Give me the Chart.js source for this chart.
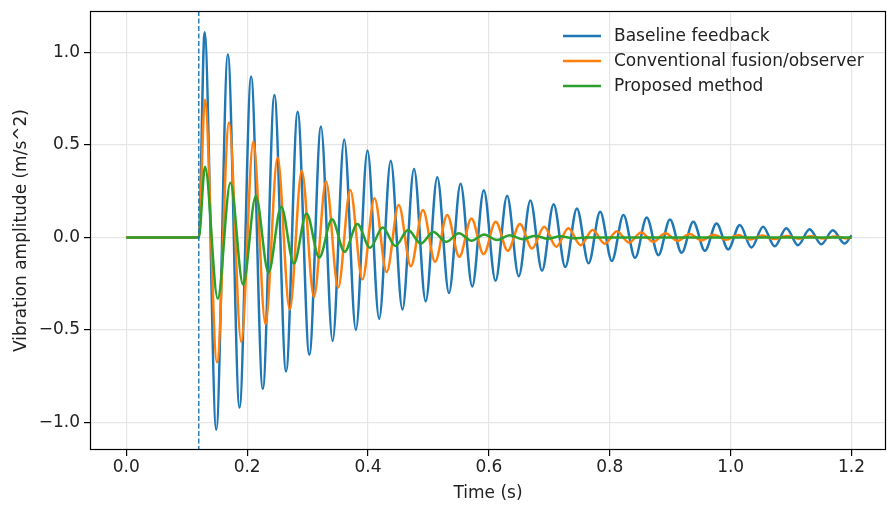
<!DOCTYPE html>
<html>
<head>
<meta charset="utf-8">
<script src="https://cdn.jsdelivr.net/npm/chart.js@4.4.0/dist/chart.umd.min.js"></script>
<style>
  html, body { margin: 0; padding: 0; background: #fff; }
  #wrap { width: 893px; height: 516px; }
</style>
</head>
<body>
<div id="wrap"><canvas id="chart" width="893" height="516"></canvas></div>
<script>
"use strict";

// ---- data ----
const onsetTime = 0.12;
const endTime = 1.2;
const xTicks = [0, 0.2, 0.4, 0.6, 0.8, 1.0, 1.2];
const yTicks = [-1, -0.5, 0, 0.5, 1];
const seriesNames = ['Baseline feedback', 'Conventional fusion/observer', 'Proposed method'];
const seriesColors = ['#1f77b4', '#ff7f0e', '#2ca02c'];

// peaks / troughs of each response (s, m/s^2)
const baselineTimes = [
  0.1296, 0.1489, 0.1681, 0.1874, 0.2066, 0.2259, 0.2451, 0.2644, 0.2836, 0.3029,
  0.3221, 0.3414, 0.3606, 0.3799, 0.3991, 0.4184, 0.4376, 0.4569, 0.4761, 0.4954,
  0.5146, 0.5339, 0.5531, 0.5724, 0.5916, 0.6109, 0.6301, 0.6494, 0.6686, 0.6879,
  0.7071, 0.7264, 0.7456, 0.7649, 0.7841, 0.8034, 0.8226, 0.8419, 0.8611, 0.8804,
  0.8996, 0.9189, 0.9381, 0.9574, 0.9766, 0.9959, 1.0151, 1.0344, 1.0536, 1.0729,
  1.0921, 1.1114, 1.1306, 1.1499, 1.1691, 1.1884
];
const baselineValues = [
  1.11, -1.04, 0.99, -0.92, 0.87, -0.82, 0.77, -0.725, 0.68, -0.635,
  0.60, -0.56, 0.53, -0.50, 0.47, -0.44, 0.415, -0.39, 0.37, -0.345,
  0.325, -0.30, 0.29, -0.265, 0.255, -0.235, 0.225, -0.21, 0.20, -0.18,
  0.18, -0.16, 0.157, -0.14, 0.139, -0.127, 0.121, -0.11, 0.108, -0.096,
  0.097, -0.083, 0.085, -0.072, 0.076, -0.065, 0.067, -0.055, 0.058, -0.048,
  0.05, -0.042, 0.044, -0.037, 0.039, -0.033
];
const baselineEnd = 0.012;

const fusionTimes = [
  0.1300, 0.1501, 0.1701, 0.1902, 0.2102, 0.2303, 0.2503, 0.2704, 0.2904, 0.3105,
  0.3305, 0.3506, 0.3706, 0.3907, 0.4107, 0.4308, 0.4508, 0.4709, 0.4909, 0.5110,
  0.5310, 0.5511, 0.5711, 0.5912, 0.6112, 0.6313, 0.6513, 0.6714, 0.6914, 0.7115,
  0.7315, 0.7516, 0.7716, 0.7917, 0.8117, 0.8318, 0.8518, 0.8719, 0.8919, 0.9120,
  0.9320, 0.9521, 0.9721, 0.9922, 1.0122, 1.0323, 1.0523, 1.0724, 1.0924, 1.1125,
  1.1325, 1.1526, 1.1726, 1.1927
];
const fusionValues = [
  0.745, -0.675, 0.622, -0.566, 0.519, -0.47, 0.432, -0.39, 0.361, -0.322,
  0.303, -0.271, 0.257, -0.228, 0.212, -0.187, 0.175, -0.156, 0.148, -0.132,
  0.121, -0.105, 0.103, -0.091, 0.085, -0.072, 0.072, -0.06, 0.058, -0.051,
  0.049, -0.042, 0.040, -0.034, 0.033, -0.028, 0.027, -0.023, 0.022, -0.019,
  0.018, -0.016, 0.015, -0.013, 0.013, -0.011, 0.010, -0.009, 0.008, -0.007,
  0.007, -0.006, 0.005, -0.005
];
const fusionEnd = 0;

const proposedTimes = [
  0.1303, 0.1513, 0.1723, 0.1933, 0.2143, 0.2353, 0.2563, 0.2773, 0.2983, 0.3193,
  0.3403, 0.3613, 0.3823, 0.4033, 0.4243, 0.4453, 0.4663, 0.4873, 0.5083, 0.5293,
  0.5503, 0.5713, 0.5923, 0.6133, 0.6343, 0.6553, 0.6763, 0.6973, 0.7183, 0.7393,
  0.76
];
const proposedValues = [
  0.383, -0.331, 0.296, -0.255, 0.224, -0.19, 0.166, -0.141, 0.13, -0.109,
  0.098, -0.078, 0.072, -0.056, 0.054, -0.046, 0.040, -0.033, 0.030, -0.024,
  0.022, -0.018, 0.016, -0.014, 0.012, -0.01, 0.009, -0.007, 0.006, -0.005,
  0
];
const proposedEnd = 0;

// ---- helpers ----
function toPoints(times, values, endValue) {
  const pts = [{ x: 0, y: 0 }, { x: onsetTime, y: 0 }];
  times.forEach((t, i) => pts.push({ x: t, y: values[i] }));
  pts.push({ x: endTime, y: endValue });
  return pts;
}

function fmt(v) {
  const s = Math.abs(v).toFixed(1);
  return v < 0 ? '\u2212' + s : s;
}

function lineSet(idx, data) {
  return {
    label: seriesNames[idx],
    data: data,
    borderColor: seriesColors[idx],
    backgroundColor: seriesColors[idx],
    borderWidth: 2.5,
    pointRadius: 0,
    fill: false,
    cubicInterpolationMode: 'monotone'
  };
}

function noPad(s) {
  s.paddingTop = 0;
  s.paddingBottom = 0;
  s.paddingLeft = 0;
  s.paddingRight = 0;
}

const FONT = 'DejaVu Sans';
const FONT_SIZE = 17;
const TEXT = '#222';

// frame, onset marker and matplotlib-like legend
const extrasPlugin = {
  id: 'extras',
  afterDatasetsDraw(chart) {
    const { ctx, chartArea: a, scales } = chart;
    ctx.save();

    const xOn = scales.x.getPixelForValue(onsetTime);
    ctx.strokeStyle = seriesColors[0];
    ctx.lineWidth = 1.4;
    ctx.setLineDash([5, 2.5]);
    ctx.beginPath();
    ctx.moveTo(xOn, a.top);
    ctx.lineTo(xOn, a.bottom);
    ctx.stroke();
    ctx.setLineDash([]);

    ctx.strokeStyle = '#000';
    ctx.lineWidth = 1.2;
    ctx.strokeRect(a.left + 0.5, a.top + 0.5, a.right - a.left - 1, a.bottom - a.top - 1);

    ctx.font = FONT_SIZE + 'px "' + FONT + '"';
    ctx.textBaseline = 'middle';
    ctx.fillStyle = TEXT;
    seriesNames.forEach((name, i) => {
      const y = a.top + 25 + i * 25;
      ctx.strokeStyle = seriesColors[i];
      ctx.lineWidth = 2.5;
      ctx.beginPath();
      ctx.moveTo(a.right - 323, y);
      ctx.lineTo(a.right - 285, y);
      ctx.stroke();
      ctx.fillText(name, a.right - 272, y + 1);
    });
    ctx.restore();
  }
};

Chart.defaults.font.family = FONT;
Chart.defaults.font.size = FONT_SIZE;
Chart.defaults.color = TEXT;

new Chart(document.getElementById('chart'), {
  type: 'line',
  data: {
    // green drawn on top, as in the original
    datasets: [
      lineSet(2, toPoints(proposedTimes, proposedValues, proposedEnd)),
      lineSet(1, toPoints(fusionTimes, fusionValues, fusionEnd)),
      lineSet(0, toPoints(baselineTimes, baselineValues, baselineEnd))
    ]
  },
  options: {
    responsive: false,
    animation: false,
    devicePixelRatio: 1,
    layout: { padding: { top: 11, right: 7, left: 0, bottom: 0 } },
    plugins: {
      legend: { display: false },
      tooltip: { enabled: false }
    },
    scales: {
      x: {
        type: 'linear',
        min: -0.06,
        max: 1.257,
        afterBuildTicks: s => { s.ticks = xTicks.map(v => ({ value: v })); },
        afterFit: s => { s.height = 66; noPad(s); },
        ticks: { callback: v => fmt(v), padding: 1, maxRotation: 0, color: TEXT },
        grid: { color: '#e6e6e6', lineWidth: 1.2, tickLength: 6, tickColor: '#000', tickWidth: 1.2 },
        border: { display: false },
        title: { display: true, text: 'Time (s)', padding: { top: 0, bottom: 12 }, color: TEXT }
      },
      y: {
        type: 'linear',
        min: -1.15,
        max: 1.225,
        afterBuildTicks: s => { s.ticks = yTicks.map(v => ({ value: v })); },
        afterFit: s => { s.width = 90; noPad(s); },
        ticks: { callback: v => fmt(v), padding: 4, color: TEXT },
        grid: { color: '#e6e6e6', lineWidth: 1.2, tickLength: 6, tickColor: '#000', tickWidth: 1.2 },
        border: { display: false },
        title: { display: true, text: 'Vibration amplitude (m/s^2)', padding: { top: 11, bottom: 0 }, color: TEXT }
      }
    }
  },
  plugins: [extrasPlugin]
});
</script>
</body>
</html>
